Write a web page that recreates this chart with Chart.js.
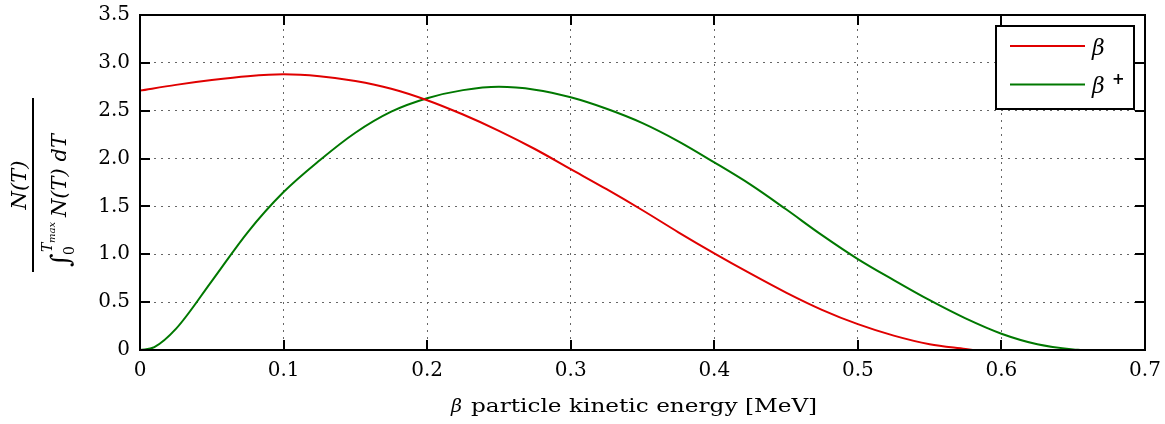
<!DOCTYPE html>
<html>
<head>
<meta charset="utf-8">
<script src="https://cdn.jsdelivr.net/npm/chart.js@4.4.1/dist/chart.umd.min.js"></script>
<style>
  html, body { margin: 0; padding: 0; background: #fff; }
  #wrap { width: 1165px; height: 424px; }
</style>
</head>
<body>
<div id="wrap"><canvas id="myChart"></canvas></div>
<script>
// kinetic energy [MeV] and normalised spectrum for each decay
const energyMinus = [0, 0.025, 0.05, 0.075, 0.1, 0.125, 0.15, 0.175, 0.2, 0.225, 0.25, 0.275, 0.3, 0.325, 0.35, 0.375, 0.4, 0.425, 0.45, 0.475, 0.5, 0.525, 0.55, 0.575, 0.58];
const betaMinus = [2.71, 2.77, 2.82, 2.86, 2.88, 2.86, 2.81, 2.73, 2.61, 2.46, 2.29, 2.10, 1.89, 1.68, 1.46, 1.23, 1.01, 0.80, 0.60, 0.42, 0.27, 0.15, 0.06, 0.01, 0.0];

const energyPlus = [0, 0.01, 0.025, 0.05, 0.075, 0.1, 0.125, 0.15, 0.175, 0.2, 0.225, 0.25, 0.275, 0.3, 0.325, 0.35, 0.375, 0.4, 0.425, 0.45, 0.475, 0.5, 0.525, 0.55, 0.575, 0.6, 0.625, 0.65, 0.655];
const betaPlus = [0, 0.03, 0.22, 0.72, 1.23, 1.65, 1.98, 2.27, 2.49, 2.63, 2.715, 2.75, 2.72, 2.64, 2.52, 2.37, 2.18, 1.96, 1.73, 1.47, 1.2, 0.95, 0.73, 0.52, 0.33, 0.17, 0.06, 0.005, 0];

const xTicks = [0, 0.1, 0.2, 0.3, 0.4, 0.5, 0.6, 0.7];
const yTicks = [0, 0.5, 1.0, 1.5, 2.0, 2.5, 3.0, 3.5];
const seriesLabels = ["β", "β+"];
const seriesColors = ["#e00000", "#007800"];

const fmt = v => (v === 0 ? "0" : v.toFixed(1));
const toPoints = (xs, ys) => xs.map((x, i) => ({ x: x, y: ys[i] }));

// matlab-like frame: inner ticks, box, legend and axis titles
const framePlugin = {
  id: "frame",
  afterDatasetsDraw(chart) {
    const ctx = chart.ctx;
    const a = chart.chartArea;
    const xs = chart.scales.x;
    const ys = chart.scales.y;
    ctx.save();
    ctx.strokeStyle = "#000";
    ctx.lineWidth = 2;
    ctx.beginPath();
    xTicks.forEach(v => {
      const px = Math.round(xs.getPixelForValue(v));
      ctx.moveTo(px, a.bottom); ctx.lineTo(px, a.bottom - 10);
      ctx.moveTo(px, a.top); ctx.lineTo(px, a.top + 10);
    });
    yTicks.forEach(v => {
      const py = Math.round(ys.getPixelForValue(v));
      ctx.moveTo(a.left, py); ctx.lineTo(a.left + 10, py);
      ctx.moveTo(a.right, py); ctx.lineTo(a.right - 10, py);
    });
    ctx.stroke();
    ctx.strokeRect(a.left, a.top, a.right - a.left, a.bottom - a.top);

    // legend box
    const bx = a.right - 149, by = a.top + 11, bw = 138, bh = 83;
    ctx.fillStyle = "#fff";
    ctx.fillRect(bx, by, bw, bh);
    ctx.strokeRect(bx, by, bw, bh);
    chart.data.datasets.forEach((ds, i) => {
      const ly = by + 20 + i * 38.5;
      ctx.strokeStyle = ds.borderColor;
      ctx.lineWidth = 2;
      ctx.beginPath();
      ctx.moveTo(bx + 14, ly); ctx.lineTo(bx + 89, ly);
      ctx.stroke();
      ctx.fillStyle = "#000";
      ctx.font = "italic 22px 'DejaVu Serif'";
      ctx.textBaseline = "middle";
      ctx.textAlign = "left";
      ctx.fillText("β", bx + 96, ly + 3);
      if (ds.label.endsWith("+")) {
        ctx.font = "bold 15px 'DejaVu Sans'";
        ctx.fillText("+", bx + 116, ly - 4);
      }
    });
    ctx.strokeStyle = "#000";

    // x axis title, body text stretched a little wider than the font's natural width
    ctx.fillStyle = "#000";
    ctx.textBaseline = "middle";
    ctx.textAlign = "left";
    ctx.font = "italic 19px 'DejaVu Serif'";
    ctx.fillText("β", 451, 407);
    ctx.save();
    ctx.translate(471, 407);
    ctx.scale(1.22, 1);
    ctx.font = "19px 'DejaVu Serif'";
    ctx.fillText("particle kinetic energy [MeV]", 0, 0);
    ctx.restore();

    // y axis title: N(T) / integral of N(T) dT
    ctx.translate(33, 185);
    ctx.rotate(-Math.PI / 2);
    ctx.lineWidth = 2;
    ctx.beginPath();
    ctx.moveTo(-87, 0); ctx.lineTo(87, 0);
    ctx.stroke();
    ctx.textAlign = "center";
    ctx.font = "italic 21px 'DejaVu Serif'";
    ctx.fillText("N(T)", 0, -12);
    ctx.textAlign = "left";
    const cx = -82;
    ctx.font = "italic 26px 'DejaVu Serif'";
    ctx.fillText("∫", cx, 29);
    ctx.font = "14px 'DejaVu Serif'";
    ctx.fillText("0", cx + 12, 37);
    ctx.font = "italic 14px 'DejaVu Serif'";
    ctx.fillText("T", cx + 15, 15);
    ctx.font = "italic 10px 'DejaVu Serif'";
    ctx.fillText("max", cx + 24, 19);
    ctx.font = "italic 21px 'DejaVu Serif'";
    ctx.fillText("N(T) dT", cx + 50, 28);
    ctx.restore();
  }
};

const config = {
  type: "line",
  data: {
    datasets: [
      {
        label: seriesLabels[0],
        data: toPoints(energyMinus, betaMinus),
        borderColor: seriesColors[0],
        borderWidth: 2,
        pointRadius: 0,
        fill: false,
        cubicInterpolationMode: "monotone",
      },
      {
        label: seriesLabels[1],
        data: toPoints(energyPlus, betaPlus),
        borderColor: seriesColors[1],
        borderWidth: 2,
        pointRadius: 0,
        fill: false,
        cubicInterpolationMode: "monotone",
      },
    ],
  },
  options: {
    responsive: true,
    maintainAspectRatio: false,
    animation: false,
    layout: { padding: { top: 15, right: 20, left: 0, bottom: 0 } },
    scales: {
      x: {
        type: "linear",
        min: 0,
        max: 0.7,
        afterBuildTicks: s => { s.ticks = xTicks.map(v => ({ value: v })); },
        afterFit: s => { s.height = 74; s.paddingLeft = 0; s.paddingRight = 0; },
        grid: { color: "#666", lineWidth: 1, drawTicks: false },
        border: { display: false, dash: [2, 5] },
        ticks: {
          padding: 9,
          color: "#000",
          font: { family: "DejaVu Serif", size: 20 },
          callback: v => fmt(v),
        },
      },
      y: {
        type: "linear",
        min: 0,
        max: 3.5,
        afterBuildTicks: s => { s.ticks = yTicks.map(v => ({ value: v })); },
        afterFit: s => { s.width = 140; s.paddingTop = 0; s.paddingBottom = 0; },
        grid: { color: "#666", lineWidth: 1, drawTicks: false },
        border: { display: false, dash: [2, 5] },
        ticks: {
          padding: 10,
          color: "#000",
          font: { family: "DejaVu Serif", size: 20 },
          callback: v => fmt(v),
        },
      },
    },
    plugins: {
      legend: { display: false },
      tooltip: { enabled: false },
    },
  },
  plugins: [framePlugin],
};

const myChart = new Chart(document.getElementById("myChart"), config);
</script>
</body>
</html>
